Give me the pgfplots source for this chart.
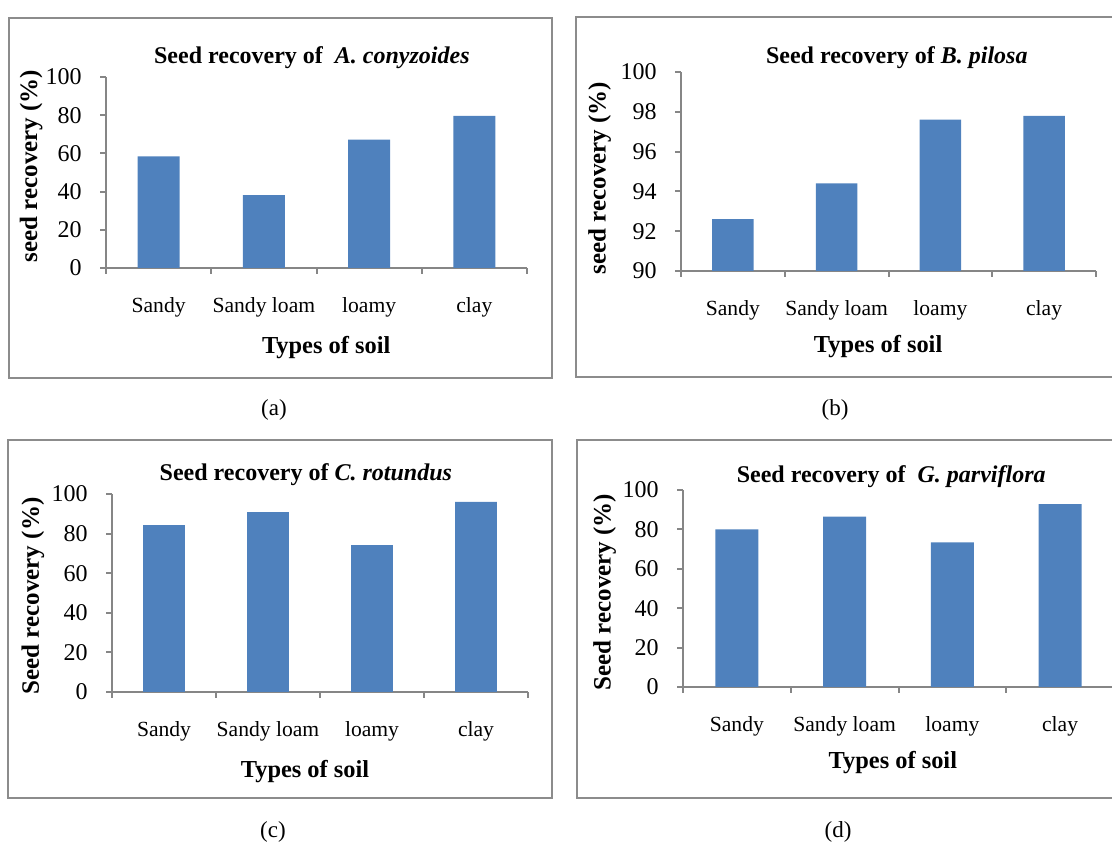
\documentclass[border=0pt]{standalone}
\usepackage{fontspec}
\setmainfont{Liberation Serif}
\usepackage{pgfplots}
\pgfplotsset{compat=1.18}

\definecolor{barblue}{HTML}{4F81BD}
\definecolor{axisgray}{HTML}{868686}
\definecolor{framegray}{HTML}{8C8C8C}

% common look of the four soil panels
\pgfplotsset{
  soilbars/.style={
    scale only axis, anchor=south west,
    axis x line*=bottom, axis y line*=left,
    axis line style={draw=axisgray, line width=1pt, -},
    tick align=outside,
    major tick length=3pt,
    tick style={draw=axisgray, line width=1pt},
    xmin=-0.5, xmax=3.5,
    xtick={-0.5,0.5,1.5,2.5,3.5}, xticklabels={},
    extra x ticks={0,1,2,3},
    extra x tick labels={Sandy,Sandy loam,loamy,clay},
    extra x tick style={major tick length=0pt},
    xticklabel style={anchor=center, yshift=-19.5pt, font=\fontsize{10.8}{12}\selectfont},
    yticklabel style={anchor=east, inner sep=0pt, xshift=-9pt, font=\fontsize{12}{13}\selectfont},
    /pgf/number format/assume math mode=true,
    ybar, bar width=0.4,
    title style={anchor=center, yshift=-7.5pt, font=\bfseries\fontsize{12}{13}\selectfont},
    xlabel style={anchor=center, font=\bfseries\fontsize{12.2}{13}\selectfont},
    ylabel style={anchor=center, font=\bfseries\fontsize{12.5}{13}\selectfont},
    xlabel={Types of soil},
  },
  % positions of title, x label and y label in axis description coordinates
  placelabels/.style n args={6}{
    title style={at={(axis description cs:#1,#2)}},
    xlabel style={at={(axis description cs:#3,#4)}},
    ylabel style={at={(axis description cs:#5,#6)}},
  },
}

\begin{document}
\begin{tikzpicture}[x=0.5pt, y=0.5pt]
\useasboundingbox (0,0) rectangle (1112,844);
\clip (0,0) rectangle (1112,844);

% chart frames
\draw[framegray, line width=1pt] (9,826) rectangle (552,466);
\draw[framegray, line width=1pt] (576,827) rectangle (1130,467);
\draw[framegray, line width=1pt] (8,404) rectangle (552,46);
\draw[framegray, line width=1pt] (577,404) rectangle (1130,46);

% (a) A. conyzoides
\begin{axis}[soilbars, at={(53pt,288pt)}, width=210.5pt, height=95.5pt,
  ymin=0, ymax=100, ytick={0,20,...,100},
  title={Seed recovery of~~\textit{A. conyzoides}},
  ylabel={seed recovery (\%)},
  placelabels={0.489}{1.115}{0.523}{-0.414}{-0.178}{0.534}]
\addplot[fill=barblue, draw=none] coordinates {(0,58.5) (1,38.2) (2,67.2) (3,79.7)};
\end{axis}

% (b) B. pilosa
\begin{axis}[soilbars, at={(340.5pt,286.5pt)}, width=207.5pt, height=99.5pt,
  ymin=90, ymax=100, ytick={90,92,...,100},
  title={Seed recovery of \textit{B. pilosa}},
  ylabel={seed recovery (\%)},
  placelabels={0.520}{1.085}{0.475}{-0.382}{-0.196}{0.467}]
\addplot[fill=barblue, draw=none] coordinates {(0,92.6) (1,94.4) (2,97.6) (3,97.8)};
\end{axis}

% (c) C. rotundus
\begin{axis}[soilbars, at={(56pt,76pt)}, width=208pt, height=99pt,
  ymin=0, ymax=100, ytick={0,20,...,100},
  title={Seed recovery of \textit{C. rotundus}},
  ylabel={Seed recovery (\%)},
  placelabels={0.466}{1.111}{0.464}{-0.404}{-0.190}{0.485}]
\addplot[fill=barblue, draw=none] coordinates {(0,84.3) (1,90.9) (2,74.2) (3,96.0)};
\end{axis}

% (d) G. parviflora
\begin{axis}[soilbars, at={(341.5pt,78.5pt)}, width=215.5pt, height=98.5pt,
  ymin=0, ymax=100, ytick={0,20,...,100},
  title={Seed recovery of~~\textit{G. parviflora}},
  ylabel={Seed recovery (\%)},
  placelabels={0.483}{1.081}{0.487}{-0.381}{-0.182}{0.482}]
\addplot[fill=barblue, draw=none] coordinates {(0,80.0) (1,86.5) (2,73.4) (3,92.8)};
\end{axis}

% panel letters
\node[font=\fontsize{11.5}{12}\selectfont] at (274,434) {(a)};
\node[font=\fontsize{11.5}{12}\selectfont] at (835,434) {(b)};
\node[font=\fontsize{11.5}{12}\selectfont] at (273,12) {(c)};
\node[font=\fontsize{11.5}{12}\selectfont] at (838,12) {(d)};
\end{tikzpicture}
\end{document}
